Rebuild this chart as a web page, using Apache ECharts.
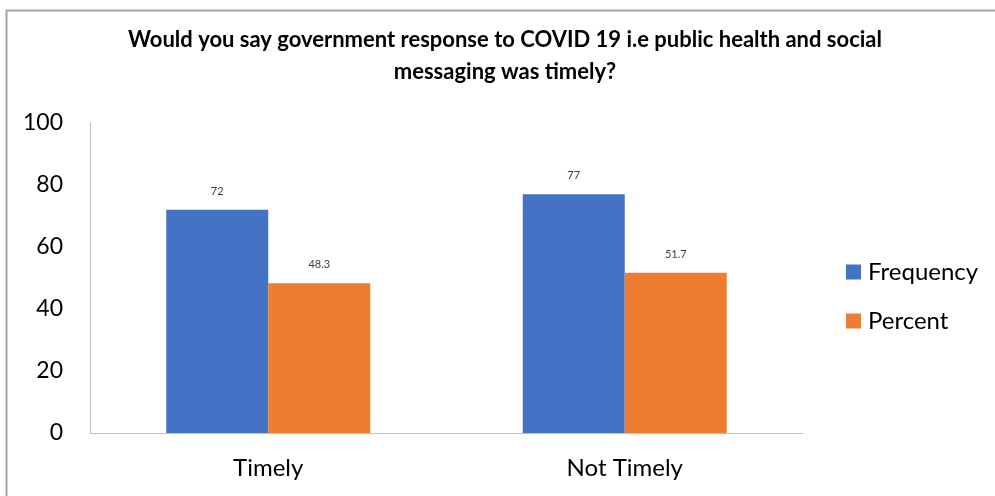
<!DOCTYPE html>
<html>
<head>
<meta charset="utf-8">
<style>
  html, body { margin: 0; padding: 0; background: #ffffff; }
  #chart { width: 995px; height: 496px; }
</style>
<script src="https://cdn.jsdelivr.net/npm/echarts@6/dist/echarts.min.js"></script>
</head>
<body>
<div id="chart"></div>
<script>
const titleText = 'Would you say government response to COVID 19 i.e public health and social\nmessaging was timely?';
const categories = ['Timely', 'Not Timely'];
const frequency = [72, 77];
const percent = [48.3, 51.7];
const yTicks = { min: 0, max: 100, interval: 20 };

const FONT = 'Lato, "Open Sans", sans-serif';
const chart = echarts.init(document.getElementById('chart'), null, { renderer: 'canvas' });

const valueLabel = {
  show: true,
  position: 'top',
  distance: 13,
  fontSize: 11,
  color: '#404040',
  fontFamily: FONT
};

chart.setOption({
  animation: false,
  backgroundColor: '#ffffff',
  title: {
    text: titleText,
    left: 505,
    textAlign: 'center',
    top: 24,
    padding: 0,
    textStyle: {
      fontFamily: FONT,
      fontWeight: 'bold',
      fontSize: 22,
      lineHeight: 32,
      color: '#000000'
    }
  },
  legend: {
    orient: 'vertical',
    left: 846,
    top: 260,
    padding: 0,
    itemWidth: 15,
    itemHeight: 15,
    itemGap: 25,
    icon: 'rect',
    textStyle: { fontFamily: FONT, fontSize: 24, color: '#000000', lineHeight: 24, padding: [0, 0, 0, 2] },
    data: ['Frequency', 'Percent']
  },
  grid: { left: 90, right: 192, top: 123, bottom: 63, containLabel: false },
  xAxis: {
    type: 'category',
    data: categories,
    axisLine: { lineStyle: { color: '#BFBFBF', width: 1 } },
    axisTick: { show: false },
    axisLabel: { fontFamily: FONT, fontSize: 24, color: '#000000', margin: 23 }
  },
  yAxis: {
    type: 'value',
    min: yTicks.min,
    max: yTicks.max,
    interval: yTicks.interval,
    axisLine: { show: true, lineStyle: { color: '#BFBFBF', width: 1 } },
    axisTick: { show: false },
    splitLine: { show: false },
    axisLabel: { fontFamily: FONT, fontSize: 23, color: '#000000', margin: 27 }
  },
  series: [
    {
      name: 'Frequency',
      type: 'bar',
      data: frequency,
      barWidth: 102,
      barGap: '0%',
      itemStyle: { color: '#4472C4' },
      label: valueLabel
    },
    {
      name: 'Percent',
      type: 'bar',
      data: percent,
      barWidth: 102,
      barGap: '0%',
      itemStyle: { color: '#ED7D31' },
      label: valueLabel
    }
  ],
  graphic: [
    {
      type: 'polyline',
      shape: { points: [[6.5, 496], [6.5, 10.5], [995, 10.5]] },
      style: { stroke: '#A6A6A6', lineWidth: 2, fill: null },
      silent: true
    }
  ]
});
</script>
</body>
</html>
